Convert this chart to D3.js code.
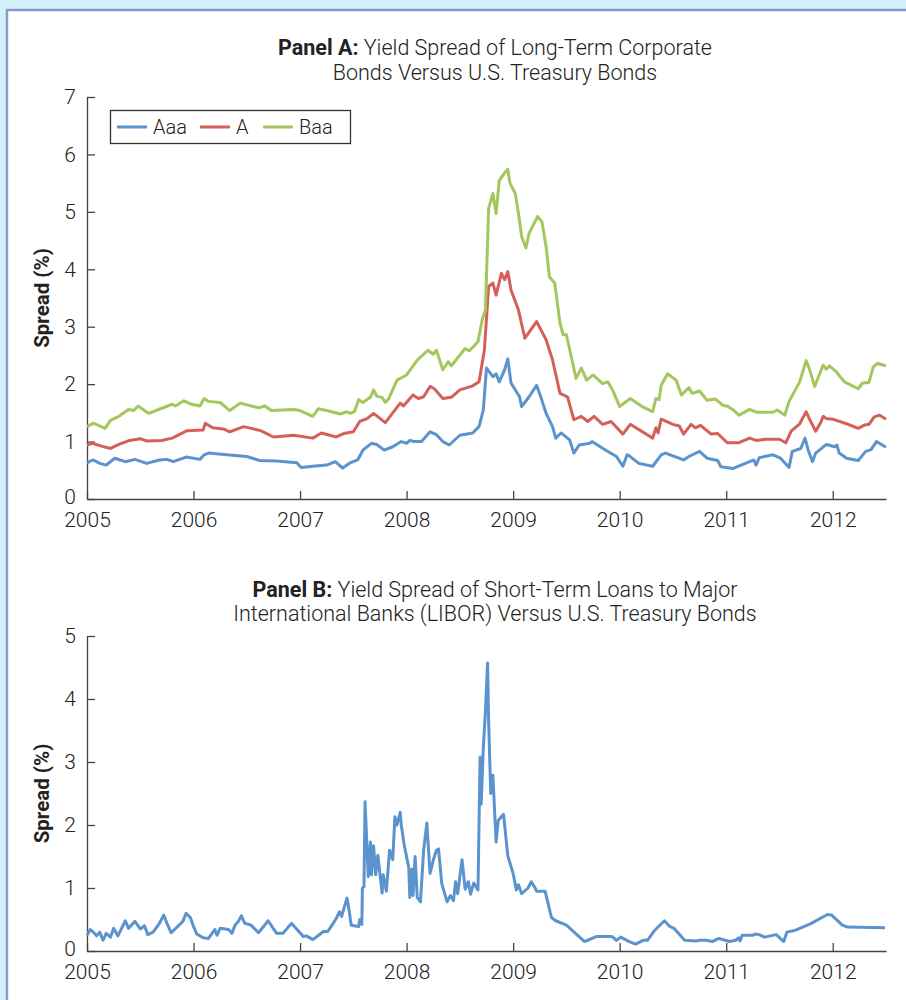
<!DOCTYPE html>
<html>
<head>
<meta charset="utf-8">
<script src="https://cdn.jsdelivr.net/npm/d3@7"></script>
<style>
  html, body { margin: 0; padding: 0; background: #d4eefa; }
  svg text { font-family: Roboto, "Liberation Sans", sans-serif; }
</style>
</head>
<body>
<svg id="chart" width="906" height="1000"></svg>
<script>
// ---------------- Data ----------------
// [year, spread %]
const aaa = [
  [2005.00,0.63],[2005.03,0.66],[2005.06,0.68],[2005.12,0.62],[2005.18,0.59],[2005.26,0.71],
  [2005.36,0.65],[2005.45,0.69],[2005.56,0.62],[2005.68,0.68],[2005.75,0.69],[2005.81,0.65],
  [2005.93,0.73],[2006.06,0.69],[2006.10,0.77],[2006.14,0.80],[2006.31,0.77],[2006.50,0.74],
  [2006.62,0.67],[2006.78,0.66],[2006.97,0.63],[2007.01,0.55],[2007.12,0.57],[2007.25,0.59],
  [2007.33,0.65],[2007.40,0.54],[2007.47,0.63],[2007.54,0.68],[2007.59,0.85],[2007.67,0.97],
  [2007.72,0.95],[2007.79,0.85],[2007.87,0.91],[2007.95,1.00],[2008.00,0.97],[2008.03,1.02],
  [2008.07,1.00],[2008.14,1.00],[2008.22,1.17],[2008.28,1.12],[2008.34,1.00],[2008.40,0.94],
  [2008.50,1.11],[2008.62,1.15],[2008.68,1.26],[2008.72,1.55],[2008.75,2.28],[2008.81,2.13],
  [2008.84,2.18],[2008.87,2.04],[2008.92,2.25],[2008.95,2.44],[2008.98,2.02],[2009.06,1.78],
  [2009.08,1.61],[2009.15,1.78],[2009.22,1.98],[2009.25,1.83],[2009.31,1.49],[2009.37,1.26],
  [2009.40,1.06],[2009.45,1.15],[2009.53,1.03],[2009.57,0.80],[2009.62,0.94],[2009.72,0.97],
  [2009.74,1.00],[2009.87,0.85],[2009.97,0.74],[2010.03,0.57],[2010.07,0.77],[2010.09,0.75],
  [2010.18,0.62],[2010.31,0.57],[2010.39,0.77],[2010.43,0.80],[2010.60,0.68],[2010.65,0.74],
  [2010.75,0.83],[2010.82,0.71],[2010.92,0.67],[2010.95,0.56],[2011.06,0.53],[2011.18,0.62],
  [2011.26,0.68],[2011.28,0.59],[2011.31,0.72],[2011.44,0.77],[2011.51,0.71],[2011.59,0.55],
  [2011.62,0.83],[2011.70,0.88],[2011.74,1.06],[2011.77,0.85],[2011.81,0.65],[2011.84,0.80],
  [2011.94,0.95],[2012.02,0.91],[2012.04,0.94],[2012.06,0.80],[2012.13,0.71],[2012.24,0.67],
  [2012.31,0.83],[2012.36,0.86],[2012.41,1.00],[2012.50,0.90]
];
const aRated = [
  [2005.00,0.94],[2005.05,0.97],[2005.12,0.93],[2005.22,0.88],[2005.30,0.95],[2005.40,1.02],
  [2005.50,1.05],[2005.56,1.01],[2005.70,1.02],[2005.80,1.06],[2005.94,1.19],[2006.09,1.20],
  [2006.11,1.32],[2006.18,1.24],[2006.28,1.22],[2006.34,1.17],[2006.47,1.26],[2006.63,1.19],
  [2006.75,1.08],[2006.94,1.11],[2007.12,1.06],[2007.20,1.15],[2007.34,1.08],[2007.41,1.14],
  [2007.50,1.17],[2007.56,1.35],[2007.63,1.40],[2007.69,1.49],[2007.80,1.33],[2007.94,1.67],
  [2007.97,1.62],[2008.06,1.81],[2008.11,1.75],[2008.16,1.78],[2008.22,1.96],[2008.26,1.92],
  [2008.34,1.75],[2008.42,1.77],[2008.50,1.90],[2008.62,1.97],[2008.68,2.04],[2008.73,2.59],
  [2008.77,3.70],[2008.81,3.76],[2008.84,3.55],[2008.89,3.93],[2008.92,3.82],[2008.95,3.96],
  [2008.98,3.64],[2009.05,3.29],[2009.11,2.80],[2009.22,3.09],[2009.31,2.77],[2009.37,2.42],
  [2009.44,1.84],[2009.51,1.78],[2009.57,1.38],[2009.64,1.44],[2009.70,1.35],[2009.76,1.44],
  [2009.84,1.30],[2009.92,1.35],[2010.03,1.13],[2010.10,1.30],[2010.31,1.06],[2010.34,1.24],
  [2010.36,1.15],[2010.39,1.39],[2010.50,1.30],[2010.56,1.27],[2010.60,1.13],[2010.67,1.30],
  [2010.71,1.24],[2010.76,1.28],[2010.86,1.13],[2010.92,1.14],[2011.01,0.98],[2011.12,0.98],
  [2011.22,1.06],[2011.28,1.02],[2011.37,1.04],[2011.50,1.04],[2011.56,0.98],[2011.61,1.18],
  [2011.69,1.31],[2011.75,1.52],[2011.78,1.40],[2011.84,1.18],[2011.89,1.34],[2011.91,1.44],
  [2011.94,1.40],[2012.00,1.39],[2012.13,1.31],[2012.24,1.23],[2012.30,1.29],[2012.34,1.30],
  [2012.39,1.43],[2012.44,1.46],[2012.50,1.39]
];
const baa = [
  [2005.00,1.26],[2005.06,1.32],[2005.17,1.23],[2005.22,1.37],[2005.30,1.44],[2005.39,1.56],
  [2005.44,1.54],[2005.48,1.62],[2005.58,1.49],[2005.66,1.55],[2005.80,1.65],[2005.83,1.62],
  [2005.91,1.71],[2005.98,1.65],[2006.06,1.62],[2006.10,1.75],[2006.14,1.70],[2006.25,1.68],
  [2006.34,1.54],[2006.44,1.67],[2006.56,1.61],[2006.62,1.59],[2006.67,1.62],[2006.73,1.54],
  [2006.94,1.56],[2007.00,1.54],[2007.12,1.44],[2007.17,1.57],[2007.25,1.54],[2007.38,1.48],
  [2007.44,1.52],[2007.47,1.49],[2007.51,1.52],[2007.55,1.73],[2007.59,1.68],[2007.66,1.77],
  [2007.69,1.90],[2007.72,1.79],[2007.77,1.77],[2007.80,1.68],[2007.83,1.74],[2007.91,2.07],
  [2008.00,2.16],[2008.10,2.42],[2008.20,2.59],[2008.25,2.52],[2008.28,2.59],[2008.34,2.25],
  [2008.39,2.39],[2008.42,2.32],[2008.55,2.62],[2008.59,2.58],[2008.67,2.74],[2008.71,3.12],
  [2008.74,3.29],[2008.77,5.06],[2008.81,5.32],[2008.84,4.97],[2008.87,5.55],[2008.92,5.68],
  [2008.95,5.74],[2008.97,5.50],[2009.02,5.32],[2009.05,4.97],[2009.08,4.57],[2009.12,4.37],
  [2009.15,4.63],[2009.23,4.92],[2009.27,4.83],[2009.31,4.39],[2009.34,3.87],[2009.39,3.76],
  [2009.44,3.06],[2009.47,2.86],[2009.50,2.86],[2009.56,2.36],[2009.59,2.10],[2009.64,2.28],
  [2009.69,2.07],[2009.75,2.16],[2009.84,2.01],[2009.89,2.04],[2009.94,1.87],[2010.00,1.61],
  [2010.10,1.75],[2010.21,1.61],[2010.31,1.52],[2010.34,1.75],[2010.37,1.73],[2010.39,1.98],
  [2010.45,2.18],[2010.53,2.07],[2010.58,1.81],[2010.65,1.94],[2010.68,1.84],[2010.75,1.88],
  [2010.82,1.72],[2010.90,1.74],[2010.97,1.63],[2011.01,1.62],[2011.06,1.56],[2011.12,1.46],
  [2011.22,1.56],[2011.29,1.51],[2011.37,1.51],[2011.44,1.51],[2011.48,1.55],[2011.55,1.46],
  [2011.59,1.70],[2011.69,2.04],[2011.75,2.41],[2011.78,2.27],[2011.83,1.96],[2011.91,2.33],
  [2011.94,2.26],[2011.97,2.32],[2012.03,2.22],[2012.11,2.04],[2012.24,1.92],[2012.28,2.02],
  [2012.34,2.03],[2012.38,2.30],[2012.42,2.36],[2012.50,2.32]
];
const libor = [
  [2005.00,0.25],[2005.03,0.34],[2005.06,0.30],[2005.09,0.24],[2005.12,0.30],[2005.15,0.17],
  [2005.18,0.28],[2005.22,0.22],[2005.25,0.36],[2005.29,0.24],[2005.36,0.48],[2005.39,0.36],
  [2005.45,0.47],[2005.50,0.35],[2005.54,0.40],[2005.57,0.26],[2005.62,0.30],[2005.68,0.44],
  [2005.72,0.57],[2005.75,0.44],[2005.79,0.29],[2005.90,0.47],[2005.93,0.60],[2005.97,0.53],
  [2006.00,0.39],[2006.03,0.27],[2006.09,0.21],[2006.14,0.20],[2006.20,0.34],[2006.22,0.25],
  [2006.25,0.36],[2006.33,0.34],[2006.36,0.28],[2006.39,0.41],[2006.42,0.47],[2006.45,0.56],
  [2006.48,0.44],[2006.54,0.41],[2006.61,0.29],[2006.70,0.48],[2006.78,0.28],[2006.84,0.28],
  [2006.92,0.44],[2007.03,0.23],[2007.06,0.24],[2007.12,0.18],[2007.22,0.31],[2007.26,0.31],
  [2007.30,0.41],[2007.34,0.52],[2007.37,0.62],[2007.39,0.55],[2007.44,0.84],[2007.46,0.65],
  [2007.48,0.41],[2007.55,0.39],[2007.56,0.50],[2007.58,0.42],[2007.585,1.00],[2007.60,1.02],
  [2007.61,2.37],[2007.64,1.18],[2007.66,1.73],[2007.67,1.21],[2007.69,1.67],[2007.71,1.21],
  [2007.73,1.52],[2007.77,0.92],[2007.78,1.21],[2007.81,0.95],[2007.84,1.60],[2007.87,1.45],
  [2007.89,2.13],[2007.91,2.00],[2007.94,2.20],[2007.95,2.00],[2007.98,1.66],[2008.02,1.33],
  [2008.03,0.85],[2008.05,1.30],[2008.06,0.88],[2008.08,1.50],[2008.10,0.85],[2008.13,0.78],
  [2008.16,1.60],[2008.19,2.03],[2008.22,1.23],[2008.25,1.44],[2008.28,1.60],[2008.30,1.62],
  [2008.33,1.07],[2008.38,0.78],[2008.41,0.88],[2008.44,0.80],[2008.46,1.10],[2008.48,0.91],
  [2008.52,1.45],[2008.55,0.98],[2008.58,1.10],[2008.60,0.90],[2008.63,1.08],[2008.67,0.97],
  [2008.69,3.08],[2008.70,2.33],[2008.72,3.22],[2008.74,3.80],[2008.76,4.57],[2008.77,3.64],
  [2008.79,2.50],[2008.81,2.79],[2008.84,1.73],[2008.86,2.07],[2008.91,2.17],[2008.95,1.51],
  [2009.00,1.23],[2009.03,0.97],[2009.05,1.05],[2009.08,0.91],[2009.14,1.00],[2009.17,1.10],
  [2009.20,1.02],[2009.22,0.95],[2009.30,0.95],[2009.36,0.53],[2009.40,0.48],[2009.50,0.41],
  [2009.67,0.15],[2009.78,0.23],[2009.93,0.23],[2009.97,0.17],[2010.01,0.22],[2010.09,0.15],
  [2010.15,0.11],[2010.22,0.17],[2010.26,0.17],[2010.33,0.33],[2010.42,0.48],[2010.47,0.39],
  [2010.51,0.36],[2010.61,0.17],[2010.72,0.16],[2010.75,0.17],[2010.81,0.17],[2010.87,0.15],
  [2010.93,0.20],[2011.03,0.15],[2011.09,0.17],[2011.12,0.21],[2011.13,0.16],[2011.15,0.25],
  [2011.25,0.25],[2011.27,0.27],[2011.31,0.26],[2011.36,0.22],[2011.47,0.26],[2011.54,0.15],
  [2011.57,0.30],[2011.65,0.33],[2011.79,0.43],[2011.95,0.58],[2011.99,0.57],[2012.09,0.41],
  [2012.14,0.38],[2012.49,0.37]
];

const yearTicks = [2005, 2006, 2007, 2008, 2009, 2010, 2011, 2012];
const panelATicks = [0, 1, 2, 3, 4, 5, 6, 7];
const panelBTicks = [0, 1, 2, 3, 4, 5];
const seriesNames = ["Aaa", "A", "Baa"];
const seriesColors = ["#5b93cf", "#d5605a", "#a4c65c"];

const svg = d3.select("#chart");

// frame
svg.append("rect").attr("x", 0).attr("y", 0).attr("width", 906).attr("height", 1000).attr("fill", "#d4eefa");
svg.append("rect").attr("x", 8).attr("y", 11).attr("width", 898).attr("height", 989).attr("fill", "#fff");
svg.append("path").attr("d", "M7,1000V10H906").attr("fill", "none")
  .attr("stroke", "#7d9fcf").attr("stroke-width", 2.5);

const x = d3.scaleLinear().domain([2005, 2012.5]).range([87, 886]);

function panel(opts) {
  const y = d3.scaleLinear().domain([0, opts.yMax]).range([opts.y0, opts.y1]);
  const g = svg.append("g");

  // title
  const t = g.append("text").attr("text-anchor", "middle").attr("font-size", 21.5)
    .attr("fill", "#222").attr("font-weight", 300);
  t.append("tspan").attr("x", 495).attr("y", opts.titleY)
    .append("tspan").attr("font-weight", 700).text(opts.bold);
  t.select("tspan").append("tspan").text(opts.line1);
  t.append("tspan").attr("x", 495).attr("y", opts.titleY + opts.lineGap).text(opts.line2);

  // axes
  const xAxis = g.append("g").attr("transform", `translate(0,${opts.y0})`)
    .call(d3.axisBottom(x).tickValues(yearTicks).tickFormat(d3.format("d"))
      .tickSize(-8).tickSizeOuter(0).tickPadding(13));
  const yAxis = g.append("g").attr("transform", "translate(87,0)")
    .call(d3.axisLeft(y).tickValues(opts.ticks).tickFormat(d3.format("d"))
      .tickSize(-8).tickSizeOuter(0).tickPadding(11));
  [xAxis, yAxis].forEach(a => {
    a.selectAll("path, line").attr("stroke", "#444").attr("stroke-width", 1.3);
    a.selectAll("text").attr("font-size", 21).attr("fill", "#222")
      .attr("font-family", "Roboto, sans-serif").attr("font-weight", 300);
  });
  yAxis.selectAll(".tick text").filter(d => d === 0).attr("dy", "0.2em");

  g.append("text")
    .attr("transform", `translate(49,${(opts.y0 + opts.y1) / 2}) rotate(-90)`)
    .attr("text-anchor", "middle").attr("font-size", 20.5).attr("font-weight", 700)
    .attr("fill", "#222").text("Spread (%)");

  const line = d3.line().x(d => x(d[0])).y(d => y(d[1]));
  opts.series.forEach((s, i) => {
    g.append("path").datum(s).attr("d", line).attr("fill", "none")
      .attr("stroke", opts.colors[i]).attr("stroke-width", 3)
      .attr("stroke-linejoin", "round");
  });
  return g;
}

panel({
  y0: 499, y1: 97, yMax: 7, ticks: panelATicks, titleY: 55, lineGap: 25,
  bold: "Panel A:", line1: " Yield Spread of Long-Term Corporate",
  line2: "Bonds Versus U.S. Treasury Bonds",
  series: [aaa, aRated, baa], colors: seriesColors
});

panel({
  y0: 951, y1: 636, yMax: 5, ticks: panelBTicks, titleY: 597, lineGap: 24,
  bold: "Panel B:", line1: " Yield Spread of Short-Term Loans to Major",
  line2: "International Banks (LIBOR) Versus U.S. Treasury Bonds",
  series: [libor], colors: [seriesColors[0]]
});

// ---------------- Legend ----------------
const legend = svg.append("g");
legend.append("rect").attr("x", 110.5).attr("y", 110.5).attr("width", 240).attr("height", 33)
  .attr("fill", "#fff").attr("stroke", "#333").attr("stroke-width", 1.3);
const legendX = [117, 200, 263];
seriesNames.forEach((name, i) => {
  legend.append("line").attr("x1", legendX[i]).attr("x2", legendX[i] + 30)
    .attr("y1", 127).attr("y2", 127).attr("stroke", seriesColors[i]).attr("stroke-width", 3);
  legend.append("text").attr("x", legendX[i] + 36).attr("y", 134)
    .attr("font-size", 20).attr("font-weight", 300).attr("fill", "#222").text(name);
});
</script>
</body>
</html>
